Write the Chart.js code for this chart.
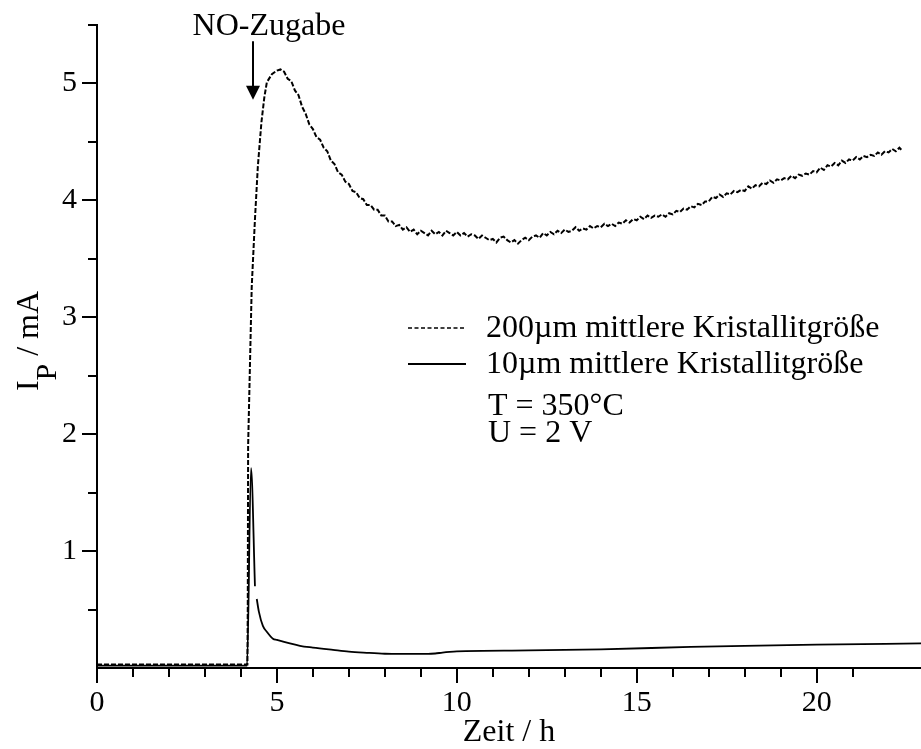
<!DOCTYPE html>
<html lang="de">
<head>
<meta charset="utf-8">
<title>Pumpstrom nach NO-Zugabe</title>
<script src="https://cdn.jsdelivr.net/npm/chart.js@4.4.1/dist/chart.umd.min.js"></script>
<style>
  html, body { margin: 0; padding: 0; background: #fff; }
  #wrap { width: 921px; height: 749px; }
</style>
</head>
<body>
<div id="wrap"><canvas id="ipChart" width="921" height="749"></canvas></div>
<script>
// Pumpstrom I_P über der Zeit, zwei Kristallitgrößen, NO-Zugabe bei ca. 4.3 h

// 200 µm: Zeit (h) und Pumpstrom (mA)
const tCoarse = [
  0, 1, 2, 3, 4, 4.18, 4.19, 4.20, 4.30, 4.39, 4.47, 4.57, 4.65, 4.72, 4.86, 5.0, 5.1,
  5.2, 5.3, 5.4, 5.5, 5.6, 5.7, 5.8, 5.9, 6.0, 6.1, 6.2, 6.3, 6.4, 6.5, 6.6, 6.7, 6.8, 6.9,
  7.0, 7.1, 7.2, 7.3, 7.4, 7.5, 7.6, 7.7, 7.8, 7.9, 8.0, 8.1, 8.2, 8.3, 8.4, 8.5, 8.6, 8.7, 8.8, 8.9,
  9.0, 9.1, 9.2, 9.3, 9.4, 9.5, 9.6, 9.7, 9.8, 9.9, 10.0, 10.1, 10.2, 10.3, 10.4, 10.5, 10.6, 10.7, 10.8, 10.9,
  11.0, 11.1, 11.2, 11.3, 11.4, 11.5, 11.6, 11.7, 11.8, 11.9, 12.0, 12.1, 12.2, 12.3, 12.4, 12.5, 12.6, 12.7, 12.8, 12.9,
  13.0, 13.1, 13.2, 13.3, 13.4, 13.5, 13.6, 13.7, 13.8, 13.9, 14.0, 14.1, 14.2, 14.3, 14.4, 14.5, 14.6, 14.7, 14.8, 14.9,
  15.0, 15.1, 15.2, 15.3, 15.4, 15.5, 15.6, 15.7, 15.8, 15.9, 16.0, 16.1, 16.2, 16.3, 16.4, 16.5, 16.6, 16.7, 16.8, 16.9,
  17.0, 17.1, 17.2, 17.3, 17.4, 17.5, 17.6, 17.7, 17.8, 17.9, 18.0, 18.1, 18.2, 18.3, 18.4, 18.5, 18.6, 18.7, 18.8, 18.9,
  19.0, 19.1, 19.2, 19.3, 19.4, 19.5, 19.6, 19.7, 19.8, 19.9, 20.0, 20.1, 20.2, 20.3, 20.4, 20.5, 20.6, 20.7, 20.8, 20.9,
  21.0, 21.1, 21.2, 21.3, 21.4, 21.5, 21.6, 21.7, 21.8, 21.9, 22.0, 22.1, 22.2, 22.3, 22.36
];
const ipCoarse = [
  0.03, 0.03, 0.03, 0.03, 0.03, 0.03, 0.5, 1.9, 3.26, 3.84, 4.29, 4.67, 4.88, 5.01, 5.08, 5.11, 5.12,
  5.10, 5.04, 5.02, 4.94, 4.90, 4.80, 4.74, 4.65, 4.61, 4.54, 4.52, 4.45, 4.42, 4.34, 4.31, 4.24, 4.22, 4.16,
  4.14, 4.08, 4.07, 4.02, 4.01, 3.96, 3.96, 3.92, 3.92, 3.87, 3.87, 3.82, 3.82, 3.78, 3.79, 3.75, 3.77, 3.73, 3.75, 3.71,
  3.74, 3.72, 3.70, 3.74, 3.71, 3.73, 3.70, 3.74, 3.72, 3.70, 3.73, 3.70, 3.72, 3.69, 3.71, 3.70, 3.67, 3.70, 3.68, 3.66,
  3.67, 3.64, 3.68, 3.69, 3.66, 3.64, 3.66, 3.63, 3.66, 3.68, 3.66, 3.69, 3.70, 3.68, 3.72, 3.70, 3.73, 3.71, 3.74, 3.72,
  3.75, 3.73, 3.74, 3.77, 3.74, 3.76, 3.75, 3.78, 3.76, 3.78, 3.77, 3.80, 3.78, 3.80, 3.78, 3.81, 3.80, 3.83, 3.81, 3.84,
  3.83, 3.86, 3.84, 3.87, 3.85, 3.87, 3.86, 3.88, 3.86, 3.89, 3.88, 3.91, 3.90, 3.93, 3.92, 3.95, 3.94, 3.97, 3.96, 3.99,
  3.99, 4.03, 4.02, 4.05, 4.03, 4.06, 4.05, 4.08, 4.07, 4.09, 4.08, 4.12, 4.10, 4.13, 4.12, 4.15, 4.14, 4.17, 4.15, 4.18,
  4.17, 4.19, 4.18, 4.21, 4.19, 4.22, 4.21, 4.23, 4.22, 4.25, 4.24, 4.28, 4.26, 4.30, 4.29, 4.32, 4.30, 4.34, 4.32, 4.35,
  4.34, 4.37, 4.35, 4.38, 4.37, 4.39, 4.38, 4.41, 4.39, 4.42, 4.41, 4.44, 4.42, 4.45, 4.43
];

// 10 µm: Zeit (h) und Pumpstrom (mA); null = Lücke im Messschrieb
const tFine = [
  0, 1, 2, 3, 4, 4.17, 4.28, 4.39, 4.41, 4.44, 4.50, 4.61, 4.72, 4.89, 5.0,
  5.36, 5.64, 6.0, 6.56, 7.0, 7.5, 8.0, 8.4, 9.2, 9.4, 9.6, 9.8, 10.0,
  12.0, 14.0, 16.5, 18.0, 20.0, 22.9
];
const ipFine = [
  0.02, 0.02, 0.02, 0.02, 0.02, 0.02, 1.71, 0.70, null, 0.59, 0.48, 0.36, 0.31, 0.25, 0.24,
  0.21, 0.19, 0.175, 0.155, 0.14, 0.13, 0.122, 0.12, 0.12, 0.124, 0.132, 0.138, 0.142,
  0.15, 0.16, 0.18, 0.19, 0.20, 0.21
];

const seriesLabels = ['200µm mittlere Kristallitgröße', '10µm mittlere Kristallitgröße'];
const conditions = ['T = 350°C', 'U = 2 V'];

// Zeitpunkt der NO-Zugabe und Pfeil (von / bis, in mA)
const noTime = 4.33;
const arrowFrom = 5.36;
const arrowTo = 4.86;

const xTickLabels = [0, 5, 10, 15, 20];
const yTickLabels = [1, 2, 3, 4, 5];

const toPoints = (ts, vs) => ts.map((t, i) => ({ x: t, y: vs[i] }));

const SERIF = '"Liberation Serif", "Times New Roman", serif';
Chart.defaults.font.family = SERIF;
Chart.defaults.color = '#000';

// Achsen ohne Randzugaben, damit die Zeichenfläche fest sitzt
const noPad = axis => {
  axis.paddingTop = 0;
  axis.paddingBottom = 0;
  axis.paddingLeft = 0;
  axis.paddingRight = 0;
};

// Achsenstriche: lange an beschrifteten Werten, kurze dazwischen
const tickMarks = {
  id: 'tickMarks',
  afterDraw(chart) {
    const { ctx, chartArea, scales: { x, y } } = chart;
    ctx.save();
    ctx.strokeStyle = '#000';
    ctx.lineWidth = 2;
    ctx.beginPath();
    x.ticks.forEach(t => {
      const px = Math.round(x.getPixelForValue(t.value));
      const len = xTickLabels.includes(t.value) ? 15 : 9;
      ctx.moveTo(px, chartArea.bottom);
      ctx.lineTo(px, chartArea.bottom + len);
    });
    y.ticks.forEach(t => {
      if (t.value === 0) return;
      const py = Math.round(y.getPixelForValue(t.value));
      const len = yTickLabels.includes(t.value) ? 15 : 9;
      ctx.moveTo(chartArea.left, py);
      ctx.lineTo(chartArea.left - len, py);
    });
    ctx.stroke();
    ctx.restore();
  }
};

// Y-Titel mit tiefgestelltem P
const yTitle = {
  id: 'yTitle',
  afterDraw(chart) {
    const { ctx } = chart;
    const big = '32px ' + SERIF;
    const sub = '30px ' + SERIF;
    ctx.save();
    ctx.translate(38, 341);
    ctx.rotate(-Math.PI / 2);
    ctx.fillStyle = '#000';
    ctx.textBaseline = 'alphabetic';
    ctx.textAlign = 'left';
    ctx.font = big;
    const wI = ctx.measureText('I').width;
    const wRest = ctx.measureText(' / mA').width;
    ctx.font = sub;
    const wP = ctx.measureText('P').width;
    let cx = -(wI + wP + wRest) / 2;
    ctx.font = big;
    ctx.fillText('I', cx, 0);
    cx += wI;
    ctx.font = sub;
    ctx.fillText('P', cx, 18);
    cx += wP;
    ctx.font = big;
    ctx.fillText(' / mA', cx, 0);
    ctx.restore();
  }
};

// Pfeil, Legende und Messbedingungen
const annotations = {
  id: 'annotations',
  afterDraw(chart) {
    const { ctx, scales: { x, y } } = chart;
    ctx.save();
    ctx.fillStyle = '#000';
    ctx.strokeStyle = '#000';

    const ax = Math.round(x.getPixelForValue(noTime));
    const tail = y.getPixelForValue(arrowFrom);
    const tip = y.getPixelForValue(arrowTo);
    ctx.lineWidth = 2;
    ctx.beginPath();
    ctx.moveTo(ax, tail);
    ctx.lineTo(ax, tip - 10);
    ctx.stroke();
    ctx.beginPath();
    ctx.moveTo(ax - 7, tip - 14);
    ctx.lineTo(ax + 7, tip - 14);
    ctx.lineTo(ax, tip);
    ctx.closePath();
    ctx.fill();

    ctx.font = '32px ' + SERIF;
    ctx.textAlign = 'center';
    ctx.textBaseline = 'middle';
    ctx.fillText('NO-Zugabe', ax + 16, tail - 15);

    ctx.textAlign = 'left';
    chart.data.datasets.forEach((ds, i) => {
      const ly = 328 + i * 36;
      ctx.lineWidth = i === 0 ? 1.6 : ds.borderWidth;
      ctx.setLineDash(i === 0 ? [4, 2.5] : []);
      ctx.beginPath();
      ctx.moveTo(408, ly);
      ctx.lineTo(466, ly);
      ctx.stroke();
      ctx.setLineDash([]);
      ctx.fillText(ds.label, 486, ly + 1);
    });
    conditions.forEach((c, i) => {
      ctx.fillText(c, 488, 407 + i * 27);
    });
    ctx.restore();
  }
};

new Chart(document.getElementById('ipChart'), {
  type: 'line',
  data: {
    datasets: [
      {
        label: seriesLabels[0],
        data: toPoints(tCoarse, ipCoarse),
        borderColor: '#000',
        borderWidth: 2,
        borderDash: [5, 2],
        pointRadius: 0,
        tension: 0
      },
      {
        label: seriesLabels[1],
        data: toPoints(tFine, ipFine),
        borderColor: '#000',
        borderWidth: 1.8,
        pointRadius: 0,
        cubicInterpolationMode: 'monotone',
        spanGaps: false
      }
    ]
  },
  options: {
    responsive: false,
    animation: false,
    devicePixelRatio: 1,
    layout: { padding: { top: 25, right: 0, bottom: 0, left: 0 } },
    plugins: {
      legend: { display: false },
      tooltip: { enabled: false }
    },
    scales: {
      x: {
        type: 'linear',
        min: 0,
        max: 22.9,
        afterBuildTicks: axis => {
          axis.ticks = axis.ticks.filter(t => Number.isInteger(t.value));
        },
        afterFit: axis => { axis.height = 81; noPad(axis); },
        ticks: {
          stepSize: 1,
          autoSkip: false,
          maxRotation: 0,
          padding: 17,
          font: { size: 30 },
          callback: v => (xTickLabels.includes(v) ? String(v) : '')
        },
        grid: { display: false, drawTicks: false },
        border: { display: true, color: '#000', width: 2 },
        title: {
          display: true,
          text: 'Zeit / h',
          font: { size: 32, lineHeight: 1.05 },
          padding: 0
        }
      },
      y: {
        type: 'linear',
        min: 0,
        max: 5.5,
        afterFit: axis => { axis.width = 97; noPad(axis); },
        ticks: {
          stepSize: 0.5,
          autoSkip: false,
          padding: 20,
          font: { size: 30 },
          callback: v => (yTickLabels.includes(v) ? String(v) : '')
        },
        grid: { display: false, drawTicks: false },
        border: { display: true, color: '#000', width: 2 }
      }
    }
  },
  plugins: [tickMarks, yTitle, annotations]
});
</script>
</body>
</html>
